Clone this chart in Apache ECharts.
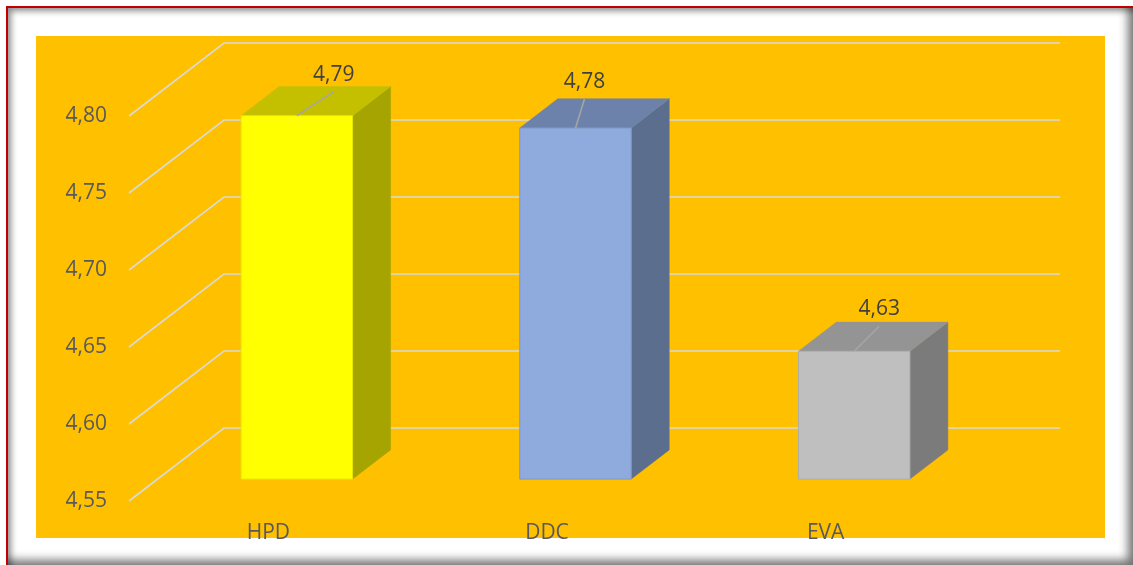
<!DOCTYPE html>
<html>
<head>
<meta charset="utf-8">
<script src="https://cdn.jsdelivr.net/npm/echarts@6.0.0/dist/echarts.min.js"></script>
<style>
  html, body { margin: 0; padding: 0; width: 1133px; height: 565px; overflow: hidden; background: #ffffff; }
  #frame { position: absolute; left: 6px; top: 6px; width: 1127px; height: 559px; border-top: 2px solid #C00000; border-left: 2px solid #C00000; box-shadow: inset -9px -9px 10px -2px rgba(0,0,0,0.55), inset 4px 4px 6px -1px rgba(0,0,0,0.45); background: #ffffff; }
  #plotbg { position: absolute; left: 36px; top: 36px; width: 1069px; height: 502px; background: #FFC000; }
  #chart { position: absolute; left: 0; top: 0; width: 1133px; height: 565px; }
</style>
</head>
<body>
<div id="frame"></div>
<div id="plotbg"></div>
<div id="chart"></div>
<script>
// ---- data ----
const categories = ['HPD', 'DDC', 'EVA'];
const values = [4.786, 4.778, 4.633];
const yTicks = [4.55, 4.60, 4.65, 4.70, 4.75, 4.80];

// ---- styles ----
const Y_MIN = 4.55, Y_MAX = 4.80, Y_STEP = 0.05;
const DX = 95, DY = -73;                 // full depth vector of the 3D box
const faceColors = [
  { front: '#FFFF00', top: '#C4C000', side: '#A6A400', stroke: '#E6E600' },
  { front: '#8FAADC', top: '#6D82AA', side: '#5C6E8E', stroke: '#7F98C6' },
  { front: '#BFBFBF', top: '#949494', side: '#7B7B7B', stroke: '#ADADAD' }
];
const labelNudge = [[37, -41], [9, -46], [25, -42]];
const fmt = v => v.toFixed(2).replace('.', ',');
const FONT = '"Open Sans", "Liberation Sans", sans-serif';

const chart = echarts.init(document.getElementById('chart'), null, { renderer: 'canvas' });

function gridRender(params, api) {
  const v = api.value(1);
  const bw = api.size([1, 0])[0];
  const pL = api.coord([0, v]);
  const pR = api.coord([categories.length - 1, v]);
  const lx = pL[0] - bw / 2, rx = pR[0] + bw / 2, y = pL[1];
  return {
    type: 'polyline',
    shape: { points: [[lx, y], [lx + DX, y + DY], [rx + DX, y + DY]] },
    style: { stroke: '#D9D9D9', lineWidth: 1.6, fill: null }
  };
}

function barRender(params, api) {
  const i = api.value(0), v = api.value(1);
  const bw = api.size([1, 0])[0];
  const c = api.coord([i, v]);
  const b = api.coord([i, Y_MIN]);
  const w = bw * 0.4;
  const fx = c[0] - w / 2 + 0.3 * DX;
  const ty = c[1] + 0.3 * DY;
  const by = b[1] + 0.3 * DY;
  const ddx = 0.4 * DX, ddy = 0.4 * DY;
  const col = faceColors[i];
  const nud = labelNudge[i];
  const cx = fx + w / 2;
  const lx = cx + nud[0], ly = ty + nud[1];
  return {
    type: 'group',
    children: [
      { type: 'polygon', shape: { points: [[fx + w, ty], [fx + w + ddx, ty + ddy], [fx + w + ddx, by + ddy], [fx + w, by]] },
        style: { fill: col.side, stroke: col.side, lineWidth: 0.5 } },
      { type: 'polygon', shape: { points: [[fx, ty], [fx + w, ty], [fx + w + ddx, ty + ddy], [fx + ddx, ty + ddy]] },
        style: { fill: col.top, stroke: col.top, lineWidth: 0.5 } },
      { type: 'rect', shape: { x: fx, y: ty, width: w, height: by - ty },
        style: { fill: col.front, stroke: col.stroke, lineWidth: 1 } },
      { type: 'line', shape: { x1: cx, y1: ty, x2: lx, y2: ly + 17 },
        style: { stroke: '#A6A6A6', lineWidth: 1.5 } },
      { type: 'text', x: lx, y: ly,
        style: { text: fmt(v), fill: '#404040', font: '21px ' + FONT, align: 'center', verticalAlign: 'middle' } }
    ]
  };
}

chart.setOption({
  animation: false,
  backgroundColor: 'transparent',
  grid: { left: 129, right: 168, top: 116, bottom: 64 },
  xAxis: {
    type: 'category',
    data: categories,
    axisLine: { show: false },
    axisTick: { show: false },
    splitLine: { show: false },
    axisLabel: { color: '#595959', fontSize: 21, fontFamily: FONT, margin: 22 }
  },
  yAxis: {
    type: 'value',
    min: Y_MIN, max: Y_MAX, interval: Y_STEP,
    axisLine: { show: false },
    axisTick: { show: false },
    splitLine: { show: false },
    axisLabel: { color: '#595959', fontSize: 21, fontFamily: FONT, margin: 22, formatter: v => fmt(v) }
  },
  series: [
    {
      type: 'custom',
      clip: false,
      silent: true,
      z: 1,
      renderItem: gridRender,
      data: yTicks.map(v => [0, v])
    },
    {
      type: 'custom',
      clip: false,
      z: 2,
      renderItem: barRender,
      data: values.map((v, i) => [i, v])
    }
  ]
});
</script>
</body>
</html>
